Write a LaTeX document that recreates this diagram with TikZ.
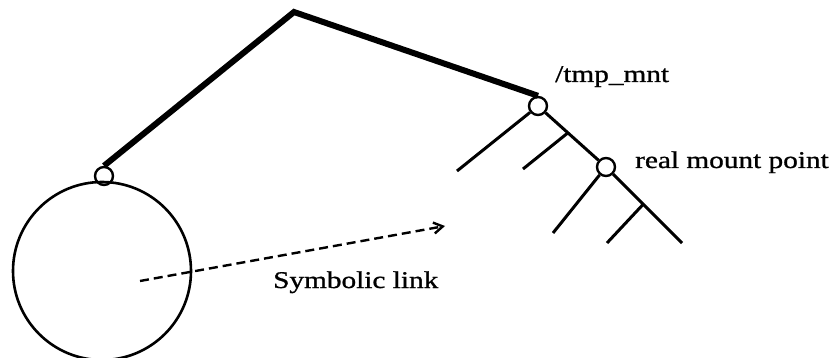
\documentclass[tikz,border=0pt]{standalone}
\usepackage{fontspec}
\usepackage{graphicx}
\setmainfont{Liberation Serif}
\newfontfamily\lblfont{Liberation Serif}[FakeBold=0.9]
\usetikzlibrary{arrows.meta,calc}
\tikzset{
  joint/.style={circle,draw,line width=2.4pt,minimum size=18pt,inner sep=0pt},
  bigdisk/.style={circle,draw,line width=2.6pt,minimum size=178pt,inner sep=0pt},
  heavy/.style={line width=6pt,line join=miter},
  branch/.style={line width=3pt},
  symlink/.style={line width=2.4pt,dash pattern=on 9pt off 5pt,-{Straight Barb[length=9pt,width=11pt,line width=2.4pt]}},
  lbl/.style={font=\lblfont\fontsize{24}{28}\selectfont,inner sep=0pt,anchor=base west}
}
\newcommand{\wide}[1]{\scalebox{1.22}[1]{#1}}
\begin{document}
\begin{tikzpicture}[x=1pt,y=-1pt]
\useasboundingbox (0,0) rectangle (838,358);
% nodes
\node[bigdisk] (disk) at (102,271) {};
\node[joint] (mnt) at (104,176) {};
\node[joint] (tmp) at (538,106) {};
\node[joint] (rmp) at (606,167) {};
\coordinate (apex) at (294,12);
\coordinate (end) at (682,243);
\coordinate (h1) at (457,171);
\coordinate (h2) at (523,169);
\coordinate (h3) at (553,233);
\coordinate (h4) at (607,243);
\coordinate (ls) at (140,281);
\coordinate (le) at (445,226);
% heavy path
\draw[heavy] (mnt.north) -- (apex) -- (tmp.north);
% slope
\draw[branch] (tmp) -- (rmp);
\draw[branch] (rmp) -- (end);
\draw[branch] (h1) -- (tmp);
\draw[branch] (h2) -- ($(tmp)!0.44!(rmp)$);
\draw[branch] (h3) -- (rmp);
\draw[branch] (h4) -- ($(rmp)!0.49!(end)$);
% symbolic link
\draw[symlink] (ls) -- (le);
% labels
\node[lbl] (ltmp) at (555,82) {\wide{/tmp\_mnt}};
\node[lbl] (lrmp) at (635,168) {\wide{real mount point}};
\node[lbl] (lsym) at (273,288) {\wide{Symbolic link}};
\end{tikzpicture}
\end{document}
